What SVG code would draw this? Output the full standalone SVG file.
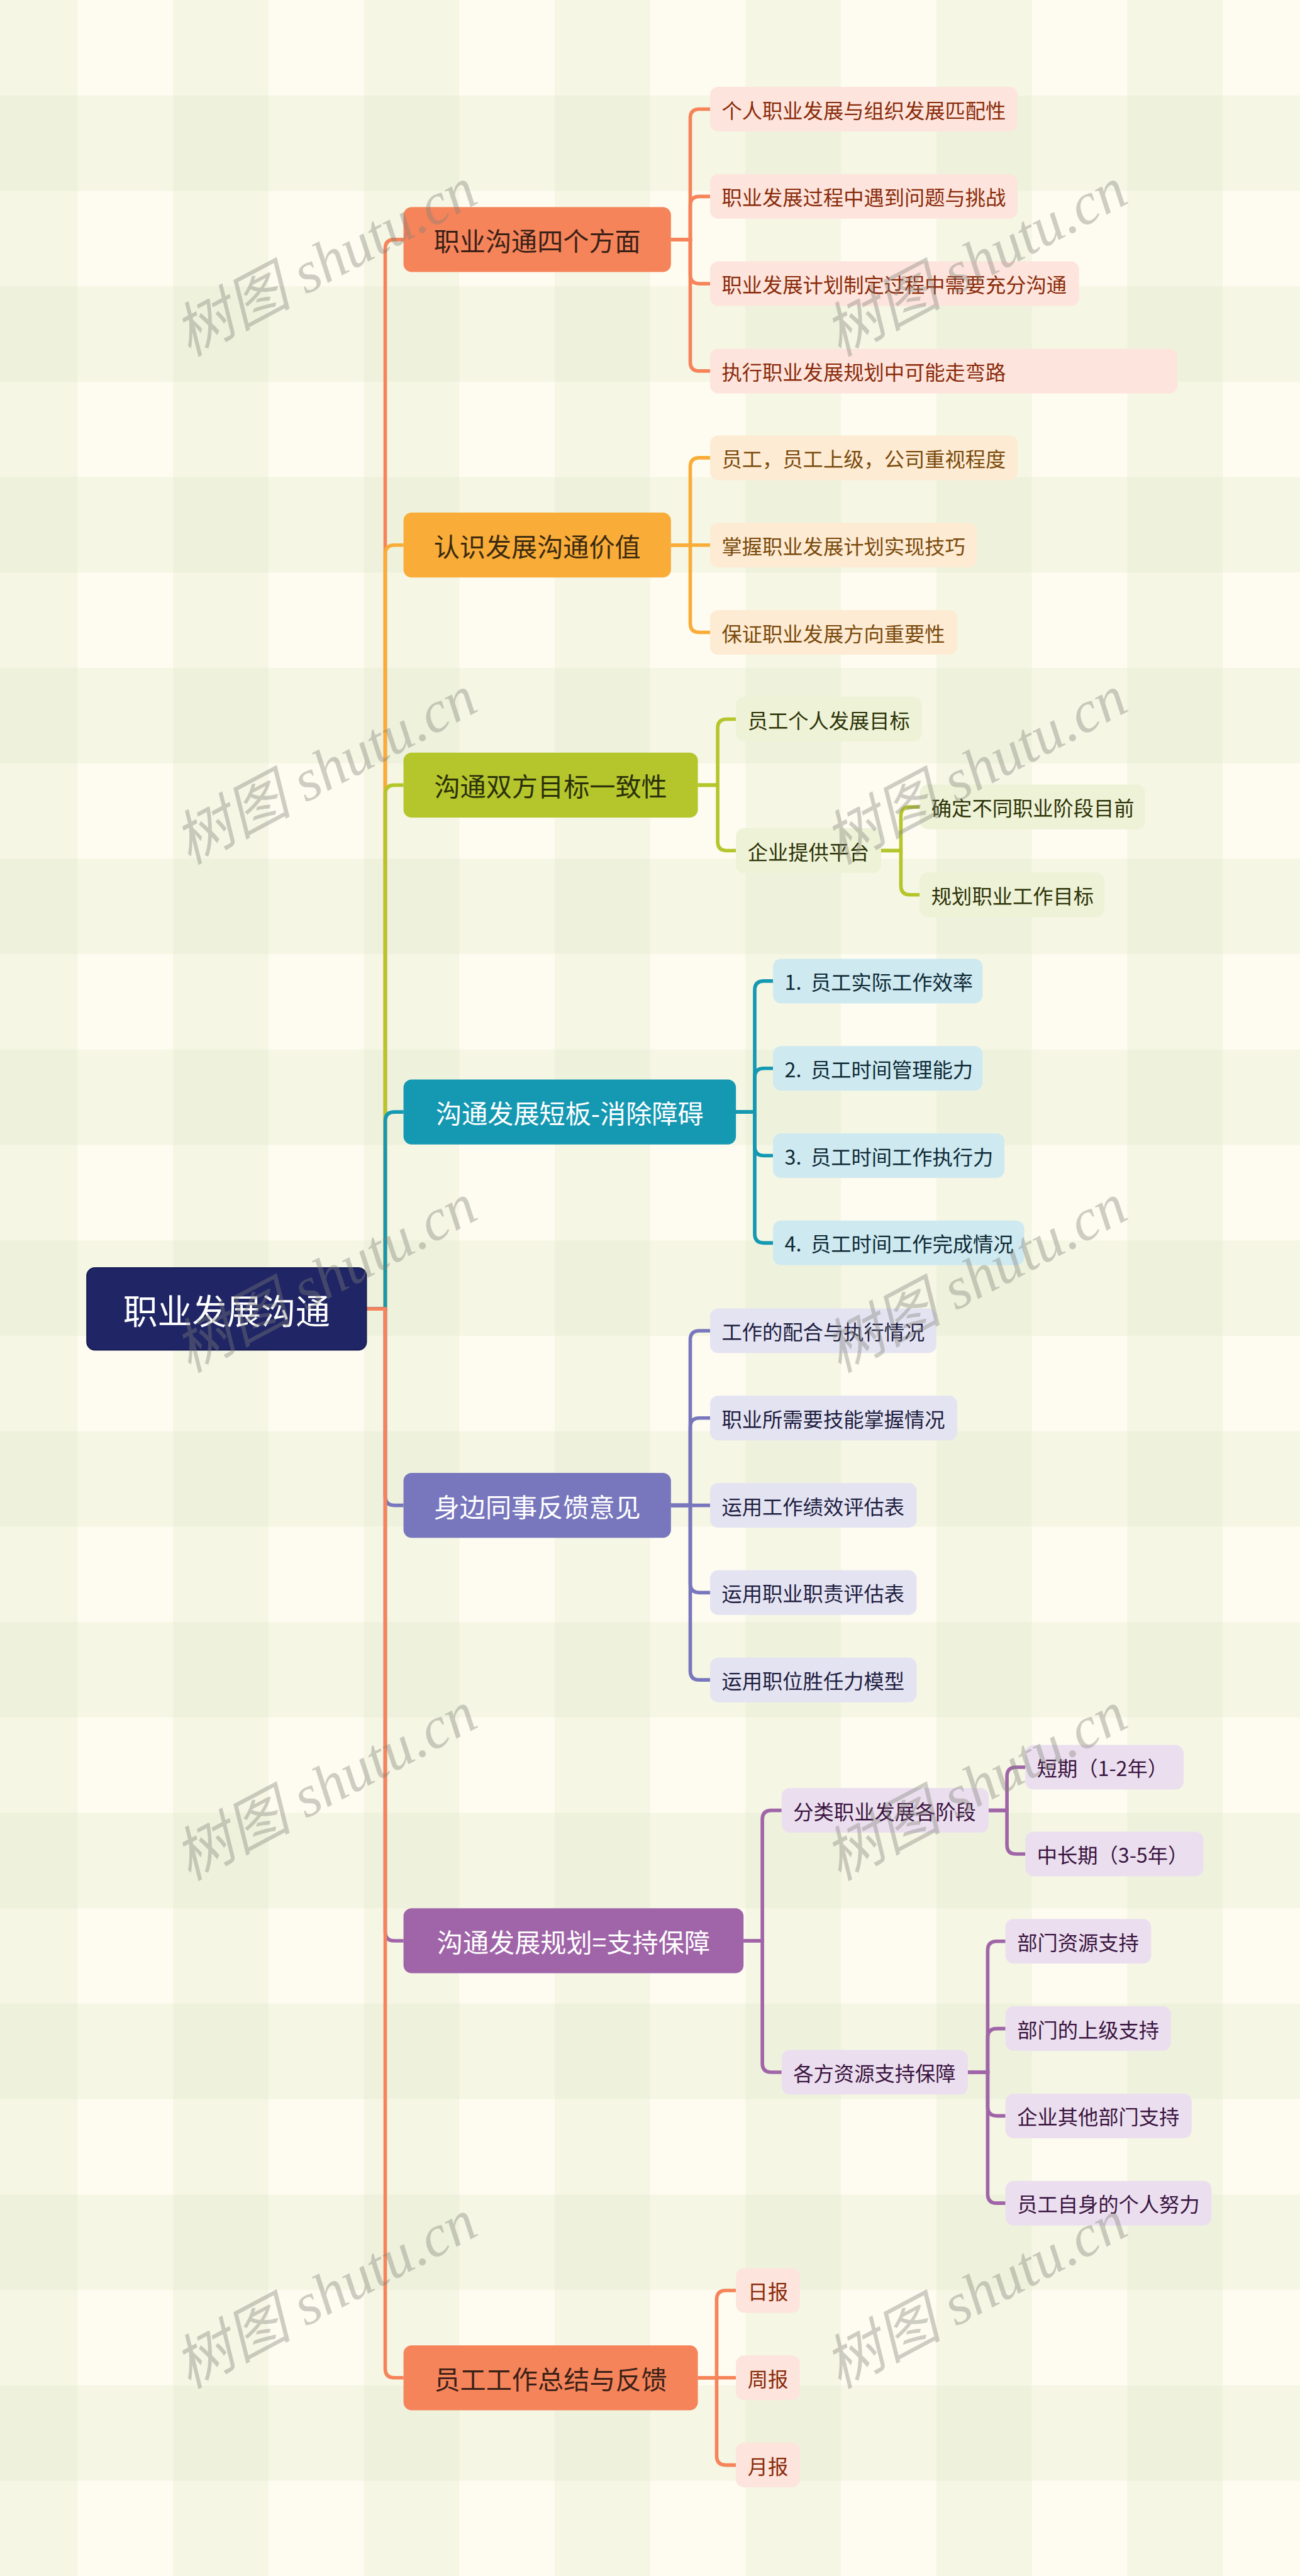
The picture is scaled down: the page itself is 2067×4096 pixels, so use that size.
<svg xmlns="http://www.w3.org/2000/svg" width="2067" height="4096" viewBox="0 0 2067 4096">
<defs>
<pattern id="bg" patternUnits="userSpaceOnUse" x="-35" y="0" width="376" height="376">
<rect width="376" height="376" fill="#fefcf0"/>
<rect x="0" y="0" width="188" height="376" fill="#f5f6e4"/>
<rect x="0" y="188" width="376" height="188" fill="#f5f6e4"/>
<rect x="0" y="188" width="188" height="188" fill="#eef2dc"/>
</pattern>
<style>
text{font-family:"Noto Sans CJK SC","Noto Sans",sans-serif;dominant-baseline:central}
.root text{font-size:68px;fill:#ffffff;text-anchor:middle}
.l1 text{font-size:51px;text-anchor:middle}
.l2 text{font-size:40px;white-space:pre}
.c path{fill:none;stroke-width:7}
.wm{font-family:"Liberation Serif","Noto Sans CJK SC",serif;font-style:italic;font-size:116px;fill:#808078;fill-opacity:0.38;text-anchor:middle}
.o1 rect{fill:#f6845a}.o1 text{fill:#3a2117}
.y1 rect{fill:#f9ac38}.y1 text{fill:#3b2a10}
.g1 rect{fill:#b5c52c}.g1 text{fill:#2a300a}
.t1 rect{fill:#1598b2}.t1 text{fill:#ffffff}
.p1 rect{fill:#7877bd}.p1 text{fill:#ffffff}
.m1 rect{fill:#a065a8}.m1 text{fill:#ffffff}
.o2 rect{fill:#fde4dc}.o2 text{fill:#8a2b0b}
.y2 rect{fill:#fdebd3}.y2 text{fill:#7a4a0c}
.g2 rect{fill:#eef2d6}.g2 text{fill:#2d3308}
.t2 rect{fill:#cfe9f1}.t2 text{fill:#0e2a35}
.p2 rect{fill:#e4e3f2}.p2 text{fill:#1e1e40}
.m2 rect{fill:#ebdfef}.m2 text{fill:#3a1440}
</style>
</defs>
<rect width="2067" height="4096" fill="#fefcf0"/>
<g transform="scale(0.807)">
<rect x="0" y="0" width="2563" height="5076" fill="url(#bg)"/>

<g id="connectors" class="c">
<path stroke="#f6845a" d="M722 2579 H759 V490 Q759 472 777 472 H795"/>
<path stroke="#f9ac38" d="M722 2579 H759 V1092 Q759 1074 777 1074 H795"/>
<path stroke="#b5c52c" d="M722 2579 H759 V1565 Q759 1547 777 1547 H795"/>
<path stroke="#1598b2" d="M722 2579 H759 V2209 Q759 2191 777 2191 H795"/>
<path stroke="#7877bd" d="M722 2579 H759 V2948 Q759 2966 777 2966 H795"/>
<path stroke="#a065a8" d="M722 2579 H759 V3806 Q759 3824 777 3824 H795"/>
<path stroke="#f6845a" d="M722 2579 H759 V4667 Q759 4685 777 4685 H795"/>

<g stroke="#f6845a">
<path d="M1322 472 H1360 V233 Q1360 215 1378 215 H1399"/>
<path d="M1322 472 H1360 V405 Q1360 387 1378 387 H1399"/>
<path d="M1322 472 H1360 V541 Q1360 559 1378 559 H1399"/>
<path d="M1322 472 H1360 V713 Q1360 731 1378 731 H1399"/>
</g>
<g stroke="#f9ac38">
<path d="M1322 1074 H1360 V920 Q1360 902 1378 902 H1399"/>
<path d="M1322 1074 H1399"/>
<path d="M1322 1074 H1360 V1228 Q1360 1246 1378 1246 H1399"/>
</g>
<g stroke="#b5c52c">
<path d="M1375 1547 H1414 V1435 Q1414 1417 1432 1417 H1450"/>
<path d="M1375 1547 H1414 V1658 Q1414 1676 1432 1676 H1450"/>
<path d="M1736 1676 H1775 V1608 Q1775 1590 1793 1590 H1812"/>
<path d="M1736 1676 H1775 V1745 Q1775 1763 1793 1763 H1812"/>
</g>
<g stroke="#1598b2">
<path d="M1450 2191 H1487 V1951 Q1487 1933 1505 1933 H1523"/>
<path d="M1450 2191 H1487 V2123 Q1487 2105 1505 2105 H1523"/>
<path d="M1450 2191 H1487 V2259 Q1487 2277 1505 2277 H1523"/>
<path d="M1450 2191 H1487 V2431 Q1487 2449 1505 2449 H1523"/>
</g>
<g stroke="#7877bd">
<path d="M1322 2966 H1360 V2640 Q1360 2622 1378 2622 H1399"/>
<path d="M1322 2966 H1360 V2812 Q1360 2794 1378 2794 H1399"/>
<path d="M1322 2966 H1399"/>
<path d="M1322 2966 H1360 V3120 Q1360 3138 1378 3138 H1399"/>
<path d="M1322 2966 H1360 V3292 Q1360 3310 1378 3310 H1399"/>
</g>
<g stroke="#a065a8">
<path d="M1465 3824 H1502 V3585 Q1502 3567 1520 3567 H1540"/>
<path d="M1465 3824 H1502 V4065 Q1502 4083 1520 4083 H1540"/>
<path d="M1948 3567 H1984 V3500 Q1984 3482 2002 3482 H2020"/>
<path d="M1948 3567 H1984 V3635 Q1984 3653 2002 3653 H2020"/>
<path d="M1907 4083 H1946 V3843 Q1946 3825 1964 3825 H1981"/>
<path d="M1907 4083 H1946 V4015 Q1946 3997 1964 3997 H1981"/>
<path d="M1907 4083 H1946 V4151 Q1946 4169 1964 4169 H1981"/>
<path d="M1907 4083 H1946 V4323 Q1946 4341 1964 4341 H1981"/>
</g>
<g stroke="#f6845a">
<path d="M1375 4685 H1412 V4531 Q1412 4513 1430 4513 H1450"/>
<path d="M1375 4685 H1450"/>
<path d="M1375 4685 H1412 V4839 Q1412 4857 1430 4857 H1450"/>
</g>
</g>

<g id="root" class="root"><rect x="171" y="2498" width="551" height="162" rx="16" fill="#1f2565" stroke="#141a50" stroke-width="2"/><text x="446.5" y="2579">职业发展沟通</text></g>

<g id="n1" class="l1 o1"><rect x="795" y="408" width="527" height="128" rx="16"/><text x="1058.5" y="472">职业沟通四个方面</text></g>
<g id="n1a" class="l2 o2"><rect x="1399" y="171" width="606" height="88" rx="16"/><text x="1422" y="215">个人职业发展与组织发展匹配性</text></g>
<g id="n1b" class="l2 o2"><rect x="1399" y="343" width="606" height="88" rx="16"/><text x="1422" y="387">职业发展过程中遇到问题与挑战</text></g>
<g id="n1c" class="l2 o2"><rect x="1399" y="515" width="727" height="88" rx="16"/><text x="1422" y="559">职业发展计划制定过程中需要充分沟通</text></g>
<g id="n1d" class="l2 o2"><rect x="1399" y="687" width="921" height="88" rx="16"/><text x="1422" y="731">执行职业发展规划中可能走弯路</text></g>

<g id="n2" class="l1 y1"><rect x="795" y="1010" width="527" height="128" rx="16"/><text x="1058.5" y="1074">认识发展沟通价值</text></g>
<g id="n2a" class="l2 y2"><rect x="1399" y="858" width="606" height="88" rx="16"/><text x="1422" y="902">员工，员工上级，公司重视程度</text></g>
<g id="n2b" class="l2 y2"><rect x="1399" y="1030" width="526" height="88" rx="16"/><text x="1422" y="1074">掌握职业发展计划实现技巧</text></g>
<g id="n2c" class="l2 y2"><rect x="1399" y="1202" width="487" height="88" rx="16"/><text x="1422" y="1246">保证职业发展方向重要性</text></g>

<g id="n3" class="l1 g1"><rect x="795" y="1483" width="580" height="128" rx="16"/><text x="1085" y="1547">沟通双方目标一致性</text></g>
<g id="n3a" class="l2 g2"><rect x="1450" y="1373" width="366" height="88" rx="16"/><text x="1473" y="1417">员工个人发展目标</text></g>
<g id="n3b" class="l2 g2"><rect x="1450" y="1632" width="286" height="88" rx="16"/><text x="1473" y="1676">企业提供平台</text></g>
<g id="n3b1" class="l2 g2"><rect x="1812" y="1546" width="444" height="88" rx="16"/><text x="1835" y="1590">确定不同职业阶段目前</text></g>
<g id="n3b2" class="l2 g2"><rect x="1812" y="1719" width="364" height="88" rx="16"/><text x="1835" y="1763">规划职业工作目标</text></g>

<g id="n4" class="l1 t1"><rect x="795" y="2127" width="655" height="128" rx="16"/><text x="1122.5" y="2191">沟通发展短板-消除障碍</text></g>
<g id="n4a" class="l2 t2"><rect x="1523" y="1889" width="413" height="88" rx="16"/><text x="1546" y="1933">1.&#160;&#160;员工实际工作效率</text></g>
<g id="n4b" class="l2 t2"><rect x="1523" y="2061" width="413" height="88" rx="16"/><text x="1546" y="2105">2.&#160;&#160;员工时间管理能力</text></g>
<g id="n4c" class="l2 t2"><rect x="1523" y="2233" width="456" height="88" rx="16"/><text x="1546" y="2277">3.&#160;&#160;员工时间工作执行力</text></g>
<g id="n4d" class="l2 t2"><rect x="1523" y="2405" width="495" height="88" rx="16"/><text x="1546" y="2449">4.&#160;&#160;员工时间工作完成情况</text></g>

<g id="n5" class="l1 p1"><rect x="795" y="2902" width="527" height="128" rx="16"/><text x="1058.5" y="2966">身边同事反馈意见</text></g>
<g id="n5a" class="l2 p2"><rect x="1399" y="2578" width="446" height="88" rx="16"/><text x="1422" y="2622">工作的配合与执行情况</text></g>
<g id="n5b" class="l2 p2"><rect x="1399" y="2750" width="487" height="88" rx="16"/><text x="1422" y="2794">职业所需要技能掌握情况</text></g>
<g id="n5c" class="l2 p2"><rect x="1399" y="2922" width="407" height="88" rx="16"/><text x="1422" y="2966">运用工作绩效评估表</text></g>
<g id="n5d" class="l2 p2"><rect x="1399" y="3094" width="407" height="88" rx="16"/><text x="1422" y="3138">运用职业职责评估表</text></g>
<g id="n5e" class="l2 p2"><rect x="1399" y="3266" width="407" height="88" rx="16"/><text x="1422" y="3310">运用职位胜任力模型</text></g>

<g id="n6" class="l1 m1"><rect x="795" y="3760" width="670" height="128" rx="16"/><text x="1130" y="3824">沟通发展规划=支持保障</text></g>
<g id="n6a" class="l2 m2"><rect x="1540" y="3523" width="408" height="88" rx="16"/><text x="1563" y="3567">分类职业发展各阶段</text></g>
<g id="n6a1" class="l2 m2"><rect x="2020" y="3438" width="312" height="88" rx="16"/><text x="2043" y="3482">短期（1-2年）</text></g>
<g id="n6a2" class="l2 m2"><rect x="2020" y="3609" width="351" height="88" rx="16"/><text x="2043" y="3653">中长期（3-5年）</text></g>
<g id="n6b" class="l2 m2"><rect x="1540" y="4039" width="367" height="88" rx="16"/><text x="1563" y="4083">各方资源支持保障</text></g>
<g id="n6b1" class="l2 m2"><rect x="1981" y="3781" width="287" height="88" rx="16"/><text x="2004" y="3825">部门资源支持</text></g>
<g id="n6b2" class="l2 m2"><rect x="1981" y="3953" width="326" height="88" rx="16"/><text x="2004" y="3997">部门的上级支持</text></g>
<g id="n6b3" class="l2 m2"><rect x="1981" y="4125" width="367" height="88" rx="16"/><text x="2004" y="4169">企业其他部门支持</text></g>
<g id="n6b4" class="l2 m2"><rect x="1981" y="4297" width="406" height="88" rx="16"/><text x="2004" y="4341">员工自身的个人努力</text></g>

<g id="n7" class="l1 o1"><rect x="795" y="4621" width="580" height="128" rx="16"/><text x="1085" y="4685">员工工作总结与反馈</text></g>
<g id="n7a" class="l2 o2"><rect x="1450" y="4469" width="126" height="88" rx="16"/><text x="1473" y="4513">日报</text></g>
<g id="n7b" class="l2 o2"><rect x="1450" y="4641" width="126" height="88" rx="16"/><text x="1473" y="4685">周报</text></g>
<g id="n7c" class="l2 o2"><rect x="1450" y="4813" width="126" height="88" rx="16"/><text x="1473" y="4857">月报</text></g>

<g id="watermarks">
<text class="wm" transform="translate(641 516) rotate(-28)">树图 shutu.cn</text>
<text class="wm" transform="translate(1922 516) rotate(-28)">树图 shutu.cn</text>
<text class="wm" transform="translate(641 1517) rotate(-28)">树图 shutu.cn</text>
<text class="wm" transform="translate(1922 1517) rotate(-28)">树图 shutu.cn</text>
<text class="wm" transform="translate(641 2518) rotate(-28)">树图 shutu.cn</text>
<text class="wm" transform="translate(1922 2518) rotate(-28)">树图 shutu.cn</text>
<text class="wm" transform="translate(641 3519) rotate(-28)">树图 shutu.cn</text>
<text class="wm" transform="translate(1922 3519) rotate(-28)">树图 shutu.cn</text>
<text class="wm" transform="translate(641 4520) rotate(-28)">树图 shutu.cn</text>
<text class="wm" transform="translate(1922 4520) rotate(-28)">树图 shutu.cn</text>
</g>
</g>
</svg>
